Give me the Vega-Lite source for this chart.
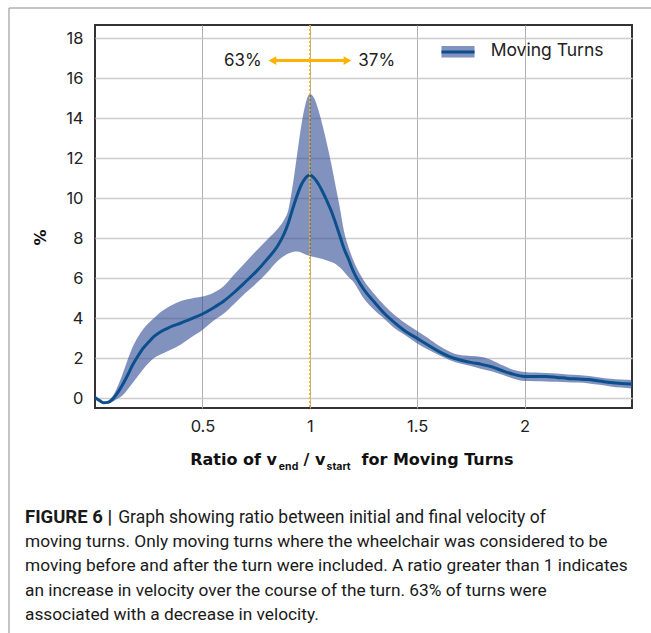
{
  "$schema": "https://vega.github.io/schema/vega-lite/v6.json",
  "width": 537,
  "height": 383,
  "autosize": {"type": "none"},
  "padding": {"left": 95, "top": 25, "right": 19, "bottom": 225},
  "background": "white",
  "config": {
    "view": {"stroke": "#333333", "strokeWidth": 2},
    "font": "Inter"
  },
  "data": {
    "values": [
      {"ratio": 0.0, "mean": 0.02, "lower": 0.0, "upper": 0.04},
      {"ratio": 0.02, "mean": -0.12, "lower": -0.16, "upper": -0.08},
      {"ratio": 0.04, "mean": -0.24, "lower": -0.28, "upper": -0.2},
      {"ratio": 0.06, "mean": -0.22, "lower": -0.28, "upper": -0.14},
      {"ratio": 0.08, "mean": -0.08, "lower": -0.2, "upper": 0.06},
      {"ratio": 0.1, "mean": 0.18, "lower": -0.06, "upper": 0.45},
      {"ratio": 0.125, "mean": 0.6, "lower": 0.1, "upper": 1.1},
      {"ratio": 0.15, "mean": 1.1, "lower": 0.4, "upper": 1.85},
      {"ratio": 0.175, "mean": 1.65, "lower": 0.75, "upper": 2.55},
      {"ratio": 0.2, "mean": 2.1, "lower": 1.1, "upper": 3.05},
      {"ratio": 0.225, "mean": 2.5, "lower": 1.45, "upper": 3.45},
      {"ratio": 0.25, "mean": 2.8, "lower": 1.75, "upper": 3.75},
      {"ratio": 0.275, "mean": 3.08, "lower": 2.0, "upper": 4.0},
      {"ratio": 0.3, "mean": 3.28, "lower": 2.15, "upper": 4.25},
      {"ratio": 0.35, "mean": 3.55, "lower": 2.4, "upper": 4.6},
      {"ratio": 0.4, "mean": 3.75, "lower": 2.68, "upper": 4.85},
      {"ratio": 0.45, "mean": 3.97, "lower": 3.05, "upper": 4.98},
      {"ratio": 0.5, "mean": 4.2, "lower": 3.4, "upper": 5.07},
      {"ratio": 0.55, "mean": 4.5, "lower": 3.85, "upper": 5.25},
      {"ratio": 0.6, "mean": 4.85, "lower": 4.22, "upper": 5.6},
      {"ratio": 0.65, "mean": 5.3, "lower": 4.72, "upper": 6.2},
      {"ratio": 0.7, "mean": 5.8, "lower": 5.25, "upper": 6.78},
      {"ratio": 0.75, "mean": 6.32, "lower": 5.72, "upper": 7.35},
      {"ratio": 0.8, "mean": 6.92, "lower": 6.25, "upper": 7.9},
      {"ratio": 0.85, "mean": 7.6, "lower": 6.85, "upper": 8.45},
      {"ratio": 0.88, "mean": 8.2, "lower": 7.1, "upper": 8.9},
      {"ratio": 0.9, "mean": 8.75, "lower": 7.22, "upper": 9.4},
      {"ratio": 0.92, "mean": 9.45, "lower": 7.3, "upper": 10.6},
      {"ratio": 0.94, "mean": 10.1, "lower": 7.32, "upper": 12.1},
      {"ratio": 0.96, "mean": 10.65, "lower": 7.28, "upper": 13.6},
      {"ratio": 0.98, "mean": 11.0, "lower": 7.18, "upper": 14.7},
      {"ratio": 1.0, "mean": 11.15, "lower": 7.1, "upper": 15.2},
      {"ratio": 1.02, "mean": 11.0, "lower": 7.05, "upper": 15.0},
      {"ratio": 1.04, "mean": 10.7, "lower": 7.0, "upper": 14.4},
      {"ratio": 1.06, "mean": 10.3, "lower": 6.95, "upper": 13.6},
      {"ratio": 1.08, "mean": 9.85, "lower": 6.88, "upper": 12.7},
      {"ratio": 1.1, "mean": 9.35, "lower": 6.8, "upper": 11.7},
      {"ratio": 1.12, "mean": 8.75, "lower": 6.7, "upper": 10.6},
      {"ratio": 1.14, "mean": 8.1, "lower": 6.52, "upper": 9.5},
      {"ratio": 1.16, "mean": 7.45, "lower": 6.3, "upper": 8.3},
      {"ratio": 1.18, "mean": 6.95, "lower": 6.05, "upper": 7.55},
      {"ratio": 1.2, "mean": 6.4, "lower": 5.85, "upper": 6.95},
      {"ratio": 1.25, "mean": 5.45, "lower": 5.0, "upper": 5.9},
      {"ratio": 1.3, "mean": 4.8, "lower": 4.4, "upper": 5.2},
      {"ratio": 1.35, "mean": 4.2, "lower": 3.93, "upper": 4.6},
      {"ratio": 1.4, "mean": 3.72, "lower": 3.45, "upper": 4.1},
      {"ratio": 1.45, "mean": 3.3, "lower": 3.1, "upper": 3.7},
      {"ratio": 1.5, "mean": 2.98, "lower": 2.72, "upper": 3.35},
      {"ratio": 1.55, "mean": 2.65, "lower": 2.42, "upper": 3.0},
      {"ratio": 1.6, "mean": 2.33, "lower": 2.15, "upper": 2.62},
      {"ratio": 1.65, "mean": 2.07, "lower": 1.9, "upper": 2.33},
      {"ratio": 1.7, "mean": 1.9, "lower": 1.72, "upper": 2.15},
      {"ratio": 1.75, "mean": 1.78, "lower": 1.6, "upper": 2.1},
      {"ratio": 1.8, "mean": 1.68, "lower": 1.45, "upper": 2.05},
      {"ratio": 1.85, "mean": 1.55, "lower": 1.32, "upper": 1.88},
      {"ratio": 1.9, "mean": 1.35, "lower": 1.15, "upper": 1.62},
      {"ratio": 1.95, "mean": 1.18, "lower": 0.96, "upper": 1.4},
      {"ratio": 2.0, "mean": 1.08, "lower": 0.85, "upper": 1.3},
      {"ratio": 2.05, "mean": 1.07, "lower": 0.84, "upper": 1.27},
      {"ratio": 2.1, "mean": 1.07, "lower": 0.83, "upper": 1.25},
      {"ratio": 2.15, "mean": 1.03, "lower": 0.81, "upper": 1.22},
      {"ratio": 2.2, "mean": 0.98, "lower": 0.79, "upper": 1.18},
      {"ratio": 2.25, "mean": 0.95, "lower": 0.77, "upper": 1.15},
      {"ratio": 2.3, "mean": 0.92, "lower": 0.73, "upper": 1.1},
      {"ratio": 2.35, "mean": 0.85, "lower": 0.66, "upper": 1.03},
      {"ratio": 2.4, "mean": 0.77, "lower": 0.58, "upper": 0.96},
      {"ratio": 2.45, "mean": 0.72, "lower": 0.52, "upper": 0.92},
      {"ratio": 2.5, "mean": 0.7, "lower": 0.48, "upper": 0.9}
    ]
  },
  "layer": [
    {
      "mark": {"type": "area", "interpolate": "monotone", "color": "#2f4a94", "opacity": 0.6, "clip": true},
      "encoding": {
        "x": {
          "field": "ratio", "type": "quantitative",
          "scale": {"domain": [0, 2.5], "nice": false, "zero": false},
          "axis": {
            "values": [0.5, 1, 1.5, 2], "format": "~g", "title": null,
            "labelFontSize": 16.5, "labelColor": "#222222", "labelPadding": 10,
            "labelFlush": false, "ticks": false, "domain": false,
            "grid": true, "gridColor": "#b0b0b0", "gridWidth": 1
          }
        },
        "y": {
          "field": "lower", "type": "quantitative",
          "scale": {"domain": [-0.5, 18.65], "nice": false, "zero": false},
          "axis": {
            "values": [0, 2, 4, 6, 8, 10, 12, 14, 16, 18], "format": "~g",
            "title": "%", "titleFont": "DejaVu Sans", "titleFontSize": 16, "titleFontWeight": "bold", "titleColor": "#111111",
            "titleX": -55, "titleY": 212, "titleAngle": -90, "titleAlign": "center", "titleBaseline": "middle",
            "labelFontSize": 16.5, "labelColor": "#222222", "labelPadding": 12,
            "ticks": false, "domain": false,
            "grid": true, "gridColor": "#cccccc", "gridWidth": 1.5
          }
        },
        "y2": {"field": "upper"}
      }
    },
    {
      "mark": {"type": "line", "interpolate": "monotone", "color": "#0b4f8c", "strokeWidth": 3, "clip": true},
      "encoding": {
        "x": {"field": "ratio", "type": "quantitative"},
        "y": {"field": "mean", "type": "quantitative"}
      }
    },
    {
      "data": {"values": [{}]},
      "mark": {"type": "rule", "color": "#ffb300", "strokeDash": [2, 2], "strokeWidth": 1.5},
      "encoding": {"x": {"datum": 1}}
    },
    {
      "data": {"values": [{}]},
      "mark": {"type": "rule", "color": "#ffb300", "strokeWidth": 3},
      "encoding": {"x": {"datum": 0.83}, "x2": {"datum": 1.17}, "y": {"datum": 16.87}}
    },
    {
      "data": {"values": [{}]},
      "mark": {"type": "point", "shape": "triangle-left", "filled": true, "color": "#ffb300", "size": 80, "opacity": 1},
      "encoding": {"x": {"datum": 0.826}, "y": {"datum": 16.87}}
    },
    {
      "data": {"values": [{}]},
      "mark": {"type": "point", "shape": "triangle-right", "filled": true, "color": "#ffb300", "size": 80, "opacity": 1},
      "encoding": {"x": {"datum": 1.1755}, "y": {"datum": 16.87}}
    },
    {
      "data": {"values": [{}]},
      "mark": {"type": "text", "text": "63%", "align": "right", "baseline": "middle", "fontSize": 17, "color": "#222222"},
      "encoding": {"x": {"datum": 0.776}, "y": {"datum": 16.87}}
    },
    {
      "data": {"values": [{}]},
      "mark": {"type": "text", "text": "37%", "align": "left", "baseline": "middle", "fontSize": 17, "color": "#222222"},
      "encoding": {"x": {"datum": 1.226}, "y": {"datum": 16.87}}
    },
    {
      "data": {"values": [{}]},
      "mark": {"type": "rect", "color": "#2f4a94", "opacity": 0.6},
      "encoding": {"x": {"datum": 1.613}, "x2": {"datum": 1.767}, "y": {"datum": 17.6}, "y2": {"datum": 17.03}}
    },
    {
      "data": {"values": [{}]},
      "mark": {"type": "rule", "color": "#0b4f8c", "strokeWidth": 3},
      "encoding": {"x": {"datum": 1.613}, "x2": {"datum": 1.767}, "y": {"datum": 17.3}}
    },
    {
      "data": {"values": [{}]},
      "mark": {"type": "text", "text": "Moving Turns", "align": "left", "baseline": "middle", "fontSize": 17.5, "color": "#222222"},
      "encoding": {"x": {"datum": 1.842}, "y": {"datum": 17.35}}
    },
    {
      "data": {"values": [{}]},
      "mark": {"type": "text", "text": "Ratio of v", "align": "right", "baseline": "alphabetic", "font": "DejaVu Sans", "fontSize": 16, "fontWeight": "bold", "color": "#111111", "clip": false},
      "encoding": {"x": {"datum": 0.8473}, "y": {"datum": -3.35}}
    },
    {
      "data": {"values": [{}]},
      "mark": {"type": "text", "text": "end", "align": "left", "baseline": "alphabetic", "font": "Inter", "fontSize": 10.5, "fontWeight": "bold", "color": "#111111", "clip": false},
      "encoding": {"x": {"datum": 0.856}, "y": {"datum": -3.575}}
    },
    {
      "data": {"values": [{}]},
      "mark": {"type": "text", "text": "/ v", "align": "right", "baseline": "alphabetic", "font": "DejaVu Sans", "fontSize": 16, "fontWeight": "bold", "color": "#111111", "clip": false},
      "encoding": {"x": {"datum": 1.0723}, "y": {"datum": -3.35}}
    },
    {
      "data": {"values": [{}]},
      "mark": {"type": "text", "text": "start", "align": "left", "baseline": "alphabetic", "font": "Inter", "fontSize": 10.5, "fontWeight": "bold", "color": "#111111", "clip": false},
      "encoding": {"x": {"datum": 1.0778}, "y": {"datum": -3.575}}
    },
    {
      "data": {"values": [{}]},
      "mark": {"type": "text", "text": "for Moving Turns", "align": "left", "baseline": "alphabetic", "font": "DejaVu Sans", "fontSize": 16, "fontWeight": "bold", "color": "#111111", "clip": false},
      "encoding": {"x": {"datum": 1.2407}, "y": {"datum": -3.35}}
    },
    {
      "data": {"values": [{}]},
      "mark": {"type": "text", "text": "FIGURE 6 |", "align": "left", "baseline": "alphabetic", "font": "Roboto", "fontSize": 18.5, "fontWeight": "bold", "color": "#1a1a1a", "clip": false},
      "encoding": {"x": {"datum": -0.3259}, "y": {"datum": -6.225}}
    },
    {
      "data": {"values": [{}]},
      "mark": {"type": "text", "text": "Graph showing ratio between initial and final velocity of", "align": "left", "baseline": "alphabetic", "font": "Roboto", "fontSize": 17.5, "color": "#1a1a1a", "clip": false},
      "encoding": {"x": {"datum": 0.108}, "y": {"datum": -6.225}}
    },
    {
      "data": {"values": [{}]},
      "mark": {
        "type": "text",
        "text": [
          "moving turns. Only moving turns where the wheelchair was considered to be",
          "moving before and after the turn were included. A ratio greater than 1 indicates",
          "an increase in velocity over the course of the turn. 63% of turns were",
          "associated with a decrease in velocity."
        ],
        "lineHeight": 24.4, "align": "left", "baseline": "alphabetic", "font": "Roboto", "fontSize": 17.3, "color": "#1a1a1a", "clip": false
      },
      "encoding": {"x": {"datum": -0.3259}, "y": {"datum": -7.445}}
    },
    {
      "data": {"values": [{}]},
      "mark": {"type": "rule", "color": "#8a8a8a", "strokeWidth": 1, "clip": false},
      "encoding": {"x": {"datum": -0.4004}, "x2": {"datum": 2.5885}, "y": {"datum": 19.5}}
    },
    {
      "data": {"values": [{}]},
      "mark": {"type": "rule", "color": "#8a8a8a", "strokeWidth": 1, "clip": false},
      "encoding": {"x": {"datum": -0.4004}, "y": {"datum": 19.5}, "y2": {"datum": -11.75}}
    }
  ]
}
